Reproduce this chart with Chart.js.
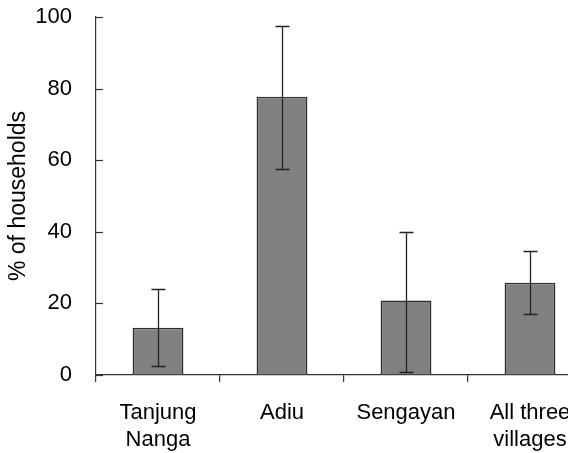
<!DOCTYPE html>
<html>
<head>
<meta charset="utf-8">
<script src="https://cdn.jsdelivr.net/npm/chart.js@4/dist/chart.umd.min.js"></script>
<style>
  html, body { margin: 0; padding: 0; background: #fff; overflow: hidden; }
  #wrap { width: 600px; height: 453px; position: relative; }
</style>
</head>
<body>
<div id="wrap"><canvas id="c"></canvas></div>
<script>
const categories = [["Tanjung", "Nanga"], "Adiu", "Sengayan", ["All three", "villages"]];
const values = [13.2, 77.7, 20.8, 25.8];
const errLow = [2.5, 57.6, 0.9, 17.1];
const errHigh = [23.9, 97.4, 40.0, 34.6];
const yTicks = [0, 20, 40, 60, 80, 100];

const AXIS = '#333333';
const FAMILY = '"Liberation Sans", Arial, sans-serif';
const FONT = { family: FAMILY, size: 22, lineHeight: 1.2 };
const TITLE_FONT = { family: FAMILY, size: 23, lineHeight: 1.2 };

function zeroPad(s) { s.paddingTop = 0; s.paddingBottom = 0; s.paddingLeft = 0; s.paddingRight = 0; }

const axisDeco = {
  id: 'axisDeco',
  afterDatasetsDraw(chart) {
    const ctx = chart.ctx;
    const y = chart.scales.y;
    ctx.save();
    ctx.strokeStyle = AXIS;
    ctx.lineWidth = 1.2;
    yTicks.forEach(v => {
      const py = Math.round(y.getPixelForValue(v)) + 0.5;
      ctx.beginPath();
      ctx.moveTo(chart.chartArea.left, py);
      ctx.lineTo(chart.chartArea.left + 7, py);
      ctx.stroke();
    });
    const meta = chart.getDatasetMeta(0);
    ctx.strokeStyle = '#222222';
    ctx.lineWidth = 1.3;
    meta.data.forEach((bar, i) => {
      const cx = Math.round(bar.x) + 0.5;
      const lo = y.getPixelForValue(errLow[i]);
      const hi = y.getPixelForValue(errHigh[i]);
      ctx.beginPath();
      ctx.moveTo(cx, lo); ctx.lineTo(cx, hi);
      ctx.moveTo(cx - 7, Math.round(hi) + 0.5); ctx.lineTo(cx + 7, Math.round(hi) + 0.5);
      ctx.moveTo(cx - 7, Math.round(lo) + 0.5); ctx.lineTo(cx + 7, Math.round(lo) + 0.5);
      ctx.stroke();
    });
    ctx.restore();
  }
};

new Chart(document.getElementById('c'), {
  type: 'bar',
  data: {
    labels: categories,
    datasets: [{
      data: values,
      backgroundColor: '#808080',
      borderColor: '#2e2e2e',
      borderWidth: 1.5,
      borderSkipped: 'start',
      barPercentage: 0.41,
      categoryPercentage: 1.0
    }]
  },
  options: {
    responsive: true,
    maintainAspectRatio: false,
    animation: false,
    layout: { autoPadding: false, padding: { top: 17, right: 8, left: 0, bottom: 0 } },
    plugins: { legend: { display: false }, tooltip: { enabled: false } },
    scales: {
      x: {
        offset: true,
        grid: { display: true, drawOnChartArea: false, offset: true, tickLength: 7, color: AXIS, lineWidth: 1.2 },
        border: { color: AXIS, width: 1.2 },
        ticks: { color: '#000', font: FONT, padding: 18, maxRotation: 0, autoSkip: false },
        afterFit(s) { s.height = 78; zeroPad(s); }
      },
      y: {
        min: 0, max: 100,
        afterBuildTicks(s) { s.ticks = yTicks.map(v => ({ value: v })); },
        grid: { display: true, drawOnChartArea: false, drawTicks: false, color: AXIS },
        border: { color: AXIS, width: 1.2 },
        ticks: { color: '#000', font: FONT, padding: 24 },
        title: { display: true, text: '% of households', color: '#000', font: TITLE_FONT, padding: { top: 5, bottom: 0 } },
        afterFit(s) { s.width = 96; zeroPad(s); }
      }
    }
  },
  plugins: [axisDeco]
});
</script>
</body>
</html>
